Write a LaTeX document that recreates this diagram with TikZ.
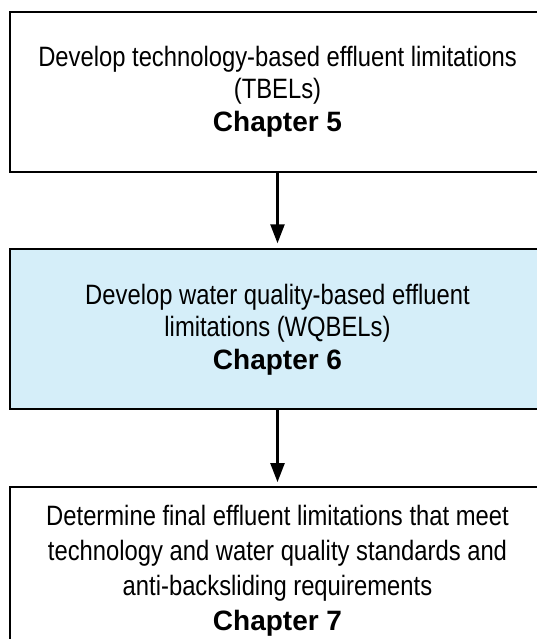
\documentclass[tikz,border=0pt]{standalone}
\usepackage{fontspec}
\newfontfamily\narrowfont{Liberation Sans}[FakeStretch=0.85]
\newfontfamily\chapfont{Liberation Sans}
\usetikzlibrary{arrows.meta}
\definecolor{boxblue}{RGB}{213,238,249}
\begin{document}
\begin{tikzpicture}[x=1pt,y=-1pt,
  stepbox/.style={draw=black, line width=2pt, minimum width=535pt, minimum height=160pt,
    inner sep=0pt, align=center, font=\narrowfont\fontsize{28}{32.5}\selectfont},
  conn/.style={-{Triangle[width=14pt,length=19pt]}, line width=2.4pt}]
\useasboundingbox (0,0) rectangle (537,639);
\node[stepbox] (b1) at (277.5,91.7)
  {Develop technology-based effluent limitations\\(TBELs)\\{\chapfont\bfseries Chapter 5}};
\node[stepbox, fill=boxblue] (b2) at (277.5,329.3)
  {Develop water quality-based effluent\\limitations (WQBELs)\\{\chapfont\bfseries Chapter 6}};
\node[stepbox, minimum height=167.4pt, font=\narrowfont\fontsize{28}{35}\selectfont] (b3) at (277.5,570.3)
  {Determine final effluent limitations that meet\\technology and water quality standards and\\anti-backsliding requirements\\{\chapfont\bfseries Chapter 7}};
\draw[conn, shorten >=5pt] (b1.south) -- (b2.north);
\draw[conn, shorten >=3.5pt] (b2.south) -- (b3.north);
\end{tikzpicture}
\end{document}
